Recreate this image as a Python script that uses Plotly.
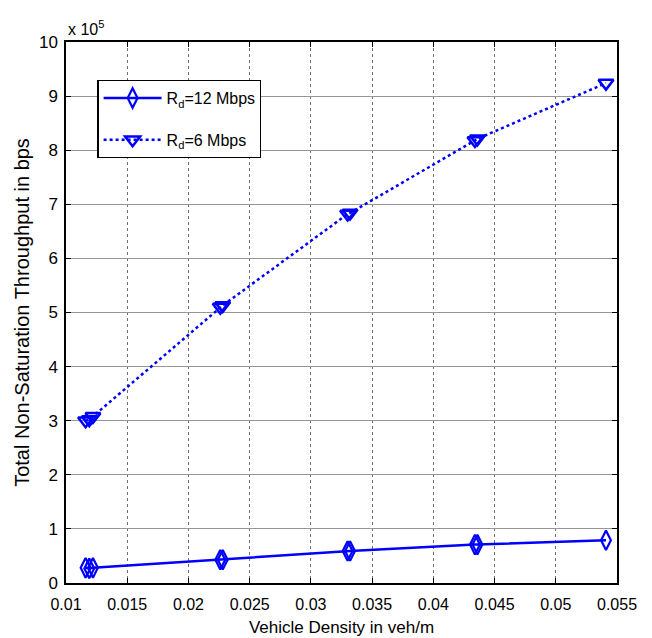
import plotly.graph_objects as go

density = [0.0116, 0.0119, 0.0122, 0.0226, 0.0228, 0.0330, 0.0332, 0.0434, 0.0436, 0.0541]
thr_12 = [0.28e5, 0.27e5, 0.28e5, 0.43e5, 0.43e5, 0.59e5, 0.59e5, 0.71e5, 0.71e5, 0.79e5]
thr_6 = [3.00e5, 3.02e5, 3.08e5, 5.10e5, 5.13e5, 6.82e5, 6.84e5, 8.18e5, 8.21e5, 9.24e5]

yticks = [i * 1e5 for i in range(11)]
ytick_text = [str(i) for i in range(11)]
xticks = [0.01, 0.015, 0.02, 0.025, 0.03, 0.035, 0.04, 0.045, 0.05, 0.055]
xtick_text = ["0.01", "0.015", "0.02", "0.025", "0.03", "0.035", "0.04", "0.045", "0.05", "0.055"]

blue = "rgb(0,0,255)"
fig = go.Figure()
fig.add_trace(go.Scatter(
    x=density, y=thr_12, mode="lines+markers", name="R<sub>d</sub>=12 Mbps",
    legendgroup="a",
    line=dict(color=blue, width=2.5),
    marker=dict(symbol="diamond-tall-open", size=14, line=dict(color=blue, width=2.2)),
))
fig.add_trace(go.Scatter(
    x=density, y=thr_6, mode="lines+markers", name="R<sub>d</sub>=6 Mbps",
    legendgroup="b",
    line=dict(color=blue, width=2.5, dash="dot"),
    marker=dict(symbol="triangle-down-open", size=13, line=dict(color=blue, width=2.5)),
))

fam = "Liberation Sans, Arial, sans-serif"
font = dict(family=fam, size=16, color="black")
fig.update_layout(
    width=652, height=638,
    margin=dict(l=66, r=35, t=42, b=55),
    paper_bgcolor="white", plot_bgcolor="white",
    font=font,
    showlegend=True,
    legend=dict(x=0.057, y=0.93, xanchor="left", yanchor="top",
                bordercolor="black", borderwidth=1.2, bgcolor="white",
                font=dict(family=fam, size=16, color="black"),
                tracegroupgap=18, itemwidth=58),
    xaxis=dict(range=[0.01, 0.055], tickvals=xticks, ticktext=xtick_text,
               automargin=False,
               showgrid=True, gridcolor="rgb(110,110,110)", griddash="dot", gridwidth=1,
               showline=True, linecolor="black", linewidth=1.5, mirror="ticks",
               ticks="inside", ticklen=5, tickcolor="black",
               ticklabelstandoff=6,
               tickfont=dict(family=fam, size=16),
               title=dict(text="Vehicle Density in veh/m", standoff=9,
                          font=dict(family=fam, size=17)),
               zeroline=False),
    yaxis=dict(range=[0, 10e5], tickvals=yticks, ticktext=ytick_text,
               automargin=False,
               showgrid=True, gridcolor="rgb(150,150,150)", gridwidth=1,
               showline=True, linecolor="black", linewidth=1.5, mirror="ticks",
               ticks="inside", ticklen=5, tickcolor="black",
               ticklabelstandoff=3,
               tickfont=dict(family=fam, size=17),
               title=dict(text="Total Non-Saturation Throughput in bps", standoff=4,
                          font=dict(family=fam, size=20)),
               zeroline=False),
    annotations=[dict(text="x 10<sup>5</sup>", xref="paper", yref="paper",
                      x=0.0, y=1.0, yshift=2, xanchor="left", yanchor="bottom",
                      showarrow=False, font=dict(family=fam, size=16))],
)
fig.write_html("out.html")
